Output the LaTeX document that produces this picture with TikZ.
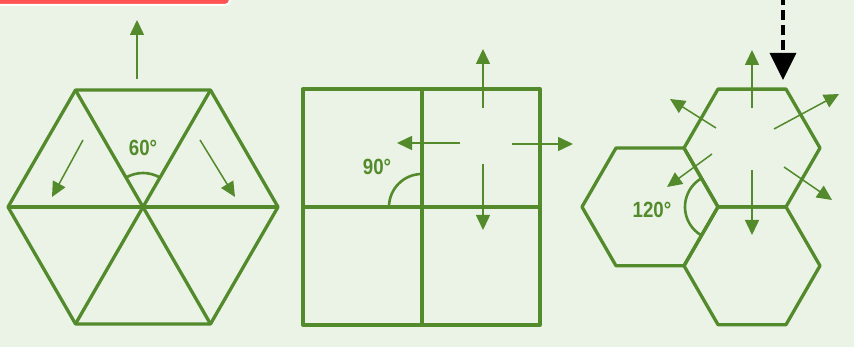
\documentclass[tikz,border=0pt]{standalone}
\usepackage{fontspec}
\setmainfont{Liberation Sans}
\usetikzlibrary{arrows.meta,calc}
\definecolor{BgGreen}{HTML}{EBF3E6}
\definecolor{LineGreen}{HTML}{528A2C}
\definecolor{BarRed}{HTML}{FF5252}

\begin{document}
\begin{tikzpicture}[x=1pt,y=1pt,
    cell/.style={draw=LineGreen,line width=3.3pt,line join=round},
    ar/.style={-{Triangle[length=15pt,width=14pt]},LineGreen,line width=1.5pt},
    ang/.style={font=\fontsize{22}{22}\selectfont\bfseries,text=LineGreen,
      inner sep=0pt,xscale=0.85}]
  \fill[BgGreen] (0,0) rectangle (854,347);
  \useasboundingbox (0,0) rectangle (854,347);
  \fill[BarRed,draw=white,line width=2pt,rounded corners=5pt] (-10,342) rectangle (230,360);
  % hexagon cut into triangles
  \coordinate (h1) at (143,140);
  \draw[cell] ($(h1)+(0:135)$) \foreach \a in {60,120,...,300}{-- ($(h1)+(\a:135)$)} -- cycle;
  \foreach \a in {0,60,120} \draw[cell] ($(h1)+(\a:135)$) -- ($(h1)+(\a+180:135)$);
  \draw[cell,line width=2.6pt] ($(h1)+(60:34)$) arc (60:120:34);
  \node[ang] (a60) at (143,199) {60°};
  \draw[ar] (137,268) -- (137,327);
  \draw[ar] (83,207) -- (52,150);
  \draw[ar] (200,207) -- (235,150);
  % square cut into squares
  \coordinate (q) at (422,140);
  \coordinate (qc) at (483,199);
  \draw[cell] (303,22) rectangle (540,258);
  \draw[cell] (422,22) -- (422,258) (303,140) -- (540,140);
  \draw[cell,line width=2.6pt] ($(q)+(0,33)$) arc (90:180:33);
  \node[ang] (a90) at (377,180) {90°};
  \draw[ar] ($(qc)+(0,40)$) -- ($(qc)+(0,99)$);
  \draw[ar] ($(qc)+(-23,5)$) -- ($(qc)+(-86,5)$);
  \draw[ar] ($(qc)+(29,4)$) -- ($(qc)+(90,4)$);
  \draw[ar] ($(qc)+(0,-16)$) -- ($(qc)+(0,-82)$);
  % three hexagons
  \coordinate (t) at (752,199);
  \coordinate (l) at ($(t)+(210:117.78)$);
  \coordinate (b) at ($(t)+(270:117.78)$);
  \coordinate (v) at ($(t)+(240:68)$);
  \foreach \c in {t,l,b}
    \draw[cell] ($(\c)+(0:68)$) \foreach \a in {60,120,...,300}{-- ($(\c)+(\a:68)$)} -- cycle;
  \draw[cell,line width=2.6pt] ($(v)+(120:33)$) arc (120:240:33);
  \node[ang] (a120) at (652,137) {120°};
  \draw[ar] ($(t)+(0,40)$) -- ($(t)+(0,98)$);
  \draw[ar] ($(t)+(0,-22)$) -- ($(t)+(0,-87)$);
  \draw[ar] ($(t)+(-36,20)$) -- ($(t)+(-82,49)$);
  \draw[ar] ($(t)+(22,19)$) -- ($(t)+(87,54)$);
  \draw[ar] ($(t)+(-40,-6)$) -- ($(t)+(-85,-39)$);
  \draw[ar] ($(t)+(32,-19)$) -- ($(t)+(80,-52)$);
  % incoming dashed arrow
  \draw[black,line width=3.5pt,dash pattern=on 10pt off 5pt,
    -{Triangle[length=27pt,width=26pt]}] (783,352) -- (783,267);
\end{tikzpicture}
\end{document}
